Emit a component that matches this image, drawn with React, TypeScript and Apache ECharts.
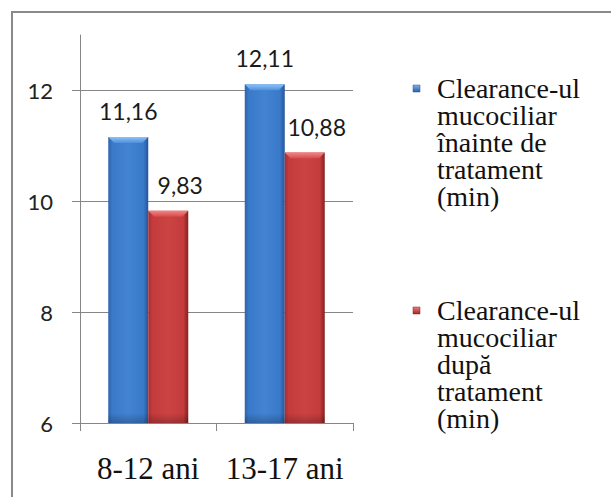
import React, { useEffect, useRef } from "react";
import * as echarts from "echarts";

// Chart data
const categories = ["8-12 ani", "13-17 ani"];
const beforeValues = [11.16, 12.11];
const afterValues = [9.83, 10.88];
const seriesNames = [
  "Clearance-ul mucociliar înainte de tratament (min)",
  "Clearance-ul mucociliar după tratament (min)",
];
const legendLines = [
  ["Clearance-ul", "mucociliar", "înainte de", "tratament", "(min)"],
  ["Clearance-ul", "mucociliar", "după", "tratament", "(min)"],
];
const yTicks = [6, 8, 10, 12];
const Y_MIN = 6;
const Y_MAX = 13;

// Styling
const SERIF = "'Liberation Serif', serif";
const SANS = "Lato, sans-serif";
const AXIS_GRAY = "#868686";
const BAR_RATIO = 0.293; // bar width relative to category band
const LABEL_SHIFT = [0, 12];
const LEGEND_Y = [88.5, 310.5];

const palettes = [
  {
    edgeL: "#2e64ad",
    body: "#3a79c9",
    hi: "#4283d2",
    edgeR: "#26559a",
    bevelTop: "#8ec2f6",
    bevelBot: "#4f90dc",
    iconTop: "#7fb2ee",
    iconBot: "#2a5ea6",
  },
  {
    edgeL: "#a72e2f",
    body: "#c43b3b",
    hi: "#cc4343",
    edgeR: "#84201f",
    bevelTop: "#f28686",
    bevelBot: "#d64b4b",
    iconTop: "#ef7a7a",
    iconBot: "#a42626",
  },
];

const fmt = (v: number) => v.toFixed(2).replace(".", ",");

const makeRender = (idx: number) => (params: any, api: any) => {
  const cat = api.value(0);
  const val = api.value(1);
  const top = api.coord([cat, val]);
  const base = api.coord([cat, Y_MIN]);
  const band = api.size([1, 0])[0];
  const w = band * BAR_RATIO;
  const x = top[0] - w + idx * w;
  const y = top[1];
  const h = base[1] - top[1];
  const p = palettes[idx];
  const bev = 6;
  return {
    type: "group",
    children: [
      {
        type: "rect",
        shape: { x, y, width: w, height: h },
        style: {
          fill: new echarts.graphic.LinearGradient(0, 0, 1, 0, [
            { offset: 0, color: p.edgeL },
            { offset: 0.1, color: p.body },
            { offset: 0.5, color: p.hi },
            { offset: 0.88, color: p.body },
            { offset: 1, color: p.edgeR },
          ]),
        },
      },
      {
        type: "rect",
        shape: { x, y: y + h - 10, width: w, height: 10 },
        style: {
          fill: new echarts.graphic.LinearGradient(0, 0, 0, 1, [
            { offset: 0, color: "rgba(0,0,0,0)" },
            { offset: 1, color: "rgba(0,0,0,0.22)" },
          ]),
        },
      },
      {
        type: "polygon",
        shape: {
          points: [
            [x, y],
            [x + w, y],
            [x + w - bev, y + bev],
            [x + bev, y + bev],
          ],
        },
        style: {
          fill: new echarts.graphic.LinearGradient(0, 0, 0, 1, [
            { offset: 0, color: p.bevelTop },
            { offset: 1, color: p.bevelBot },
          ]),
        },
      },
      {
        type: "text",
        style: {
          text: fmt(val),
          x: x + w / 2 + LABEL_SHIFT[idx],
          y: y - 26,
          align: "center",
          verticalAlign: "middle",
          fontFamily: SANS,
          fontSize: 23,
          fill: "#1a1a1a",
        },
      },
    ],
  };
};

export default function App() {
  const ref = useRef<HTMLDivElement>(null);

  useEffect(() => {
    if (!ref.current) return;
    const chart = echarts.init(ref.current, undefined, { renderer: "svg" });
    const seriesData = [beforeValues, afterValues];

    const legendGraphics = legendLines.flatMap((lines, i) => [
      {
        type: "rect",
        shape: { x: 413, y: LEGEND_Y[i] - 3.5, width: 7, height: 7 },
        style: {
          fill: new echarts.graphic.LinearGradient(0, 0, 0, 1, [
            { offset: 0, color: palettes[i].iconTop },
            { offset: 1, color: palettes[i].iconBot },
          ]),
          stroke: palettes[i].edgeR,
          lineWidth: 0.5,
        },
        silent: true,
      },
      {
        type: "text",
        style: {
          text: lines.join("\n"),
          x: 437,
          y: LEGEND_Y[i] - 14,
          fontFamily: SERIF,
          fontSize: 28,
          lineHeight: 27,
          fill: "#111",
          verticalAlign: "top",
        },
        silent: true,
      },
    ]);

    chart.setOption({
      animation: false,
      backgroundColor: "#ffffff",
      grid: { left: 80, right: 258, top: 35, bottom: 74 },
      xAxis: {
        type: "category",
        data: categories,
        axisLine: { show: true, lineStyle: { color: AXIS_GRAY, width: 1 } },
        axisTick: { show: true, length: 8, lineStyle: { color: AXIS_GRAY } },
        axisLabel: {
          interval: 0,
          fontFamily: SERIF,
          fontSize: 31,
          color: "#111",
          margin: 30,
        },
        splitLine: { show: false },
      },
      yAxis: {
        type: "value",
        min: Y_MIN,
        max: Y_MAX,
        axisLine: { show: true, lineStyle: { color: AXIS_GRAY, width: 1 } },
        axisTick: {
          show: true,
          length: 8,
          lineStyle: { color: AXIS_GRAY },
          customValues: yTicks,
        },
        axisLabel: {
          fontFamily: SANS,
          fontSize: 22,
          color: "#222",
          margin: 27,
          customValues: yTicks,
        },
        splitLine: { show: true, lineStyle: { color: AXIS_GRAY, width: 1 } },
      },
      series: seriesData.map((vals, idx) => ({
        type: "custom",
        name: seriesNames[idx],
        renderItem: makeRender(idx),
        data: vals.map((v, i) => [i, v]),
        encode: { x: 0, y: 1 },
      })),
      graphic: [
        {
          type: "rect",
          shape: { x: 12, y: 12, width: 700, height: 600 },
          style: { fill: "none", stroke: "#8a8a8a", lineWidth: 2 },
          silent: true,
        },
        ...legendGraphics,
      ],
    });

    return () => chart.dispose();
  }, []);

  return (
    <div
      ref={ref}
      style={{
        position: "absolute",
        left: 0,
        top: 0,
        width: 611,
        height: 497,
        background: "#fff",
      }}
    />
  );
}
